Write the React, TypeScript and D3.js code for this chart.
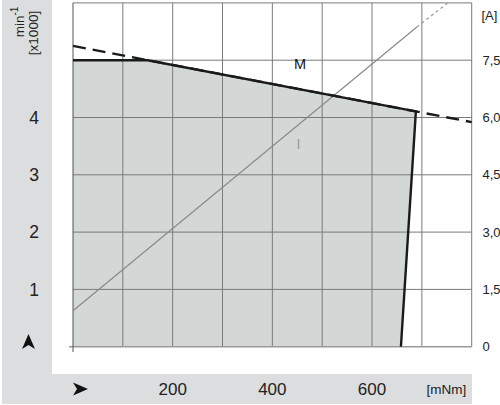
import * as d3 from "d3";

// torque [mNm] ticks and motor speed [x1000 min-1] / current [A] ticks
const torqueTicks = [200, 400, 600];
const speedTicks = [1, 2, 3, 4];
const currentTicks = [0, 1.5, 3.0, 4.5, 6.0, 7.5];
const currentLabels = ["0", "1,5", "3,0", "4,5", "6,0", "7,5"];

// speed/torque line (dashed full length)
const speedLineTorque = [0, 800];
const speedLineSpeed = [5.25, 3.92];

// permitted operating range (grey area, solid border)
const regionTorque = [0, 0, 150, 688, 658];
const regionSpeed = [0, 5.0, 5.0, 4.106, 0];

// current line: solid part then dotted extension
const currentTorque = [0, 690, 752];
const currentValue = [0.94, 8.37, 9.0];

const W = 500;
const H = 405;
const left = 73;
const right = 471.7;
const top = 2.9;
const bottom = 346.7;

export default function App() {
  const x = d3.scaleLinear().domain([0, 800]).range([left, right]);
  const yS = d3.scaleLinear().domain([0, 6]).range([bottom, top]);
  const yI = d3.scaleLinear().domain([0, 9]).range([bottom, top]);

  const line = d3.line<[number, number]>();

  const region = regionTorque.map((t, i) => [x(t), yS(regionSpeed[i])] as [number, number]);
  const regionPath = line(region) + "Z";
  const borderPath = line(region.slice(1)) || "";

  const dashPath =
    line(speedLineTorque.map((t, i) => [x(t), yS(speedLineSpeed[i])] as [number, number])) || "";

  const curPts = currentTorque.map((t, i) => [x(t), yI(currentValue[i])] as [number, number]);
  const curSolid = line(curPts.slice(0, 2)) || "";
  const curDotted = line(curPts.slice(1)) || "";

  const vGrid = d3.range(100, 800, 100);
  const hGrid = d3.range(1, 6, 1);

  const font = "'Liberation Sans', Arial, sans-serif";

  return (
    <svg width={W} height={H} style={{ position: "absolute", left: 0, top: 0 }} fontFamily={font}>
      <rect width={W} height={H} fill="#fff" />
      {/* grey label bands */}
      <rect x={2} y={0} width={50} height={404} fill="#dcdddf" />
      <rect x={2} y={374} width={470} height={30} fill="#dcdddf" />

      {/* operating range */}
      <path d={regionPath} fill="#d3d7d6" />

      {/* grid */}
      {vGrid.map((t) => (
        <line key={"v" + t} x1={x(t)} x2={x(t)} y1={top} y2={bottom} stroke="#7a7a7a" strokeWidth={1} />
      ))}
      {hGrid.map((s) => (
        <line key={"h" + s} x1={left} x2={right} y1={yS(s)} y2={yS(s)} stroke="#7a7a7a" strokeWidth={1} />
      ))}
      <line x1={left} x2={right} y1={top} y2={top} stroke="#7a7a7a" strokeWidth={1} />
      <line x1={right} x2={right} y1={top} y2={bottom} stroke="#7a7a7a" strokeWidth={1} />
      <line x1={69} x2={right} y1={bottom} y2={bottom} stroke="#999" strokeWidth={1.5} />
      <line x1={left} x2={left} y1={top} y2={352} stroke="#555" strokeWidth={1} />

      {/* current line */}
      <path d={curSolid} fill="none" stroke="#8a8a8a" strokeWidth={1.2} />
      <path d={curDotted} fill="none" stroke="#9a9a9a" strokeWidth={1.2} strokeDasharray="3 3" />

      {/* speed/torque line */}
      <path d={dashPath} fill="none" stroke="#1a1a1a" strokeWidth={2.4} strokeDasharray="13 7" />
      <path d={borderPath} fill="none" stroke="#1a1a1a" strokeWidth={2.4} strokeLinejoin="miter" />

      <text x={300} y={69} fontSize={14.5} textAnchor="middle" fill="#111">M</text>
      <text x={298.5} y={149} fontSize={14} textAnchor="middle" fill="#999">I</text>

      {/* left axis */}
      {speedTicks.map((s) => (
        <text key={"s" + s} x={34} y={yS(s)} dy="0.36em" fontSize={17.5} textAnchor="middle" fill="#222">
          {s}
        </text>
      ))}
      <text transform="translate(24,22) rotate(-90)" fontSize={13.5} textAnchor="middle" fill="#222">
        min<tspan dy={-6} fontSize={10}>-1</tspan>
      </text>
      <text transform="translate(38,33) rotate(-90)" fontSize={13.5} textAnchor="middle" fill="#222">
        [x1000]
      </text>
      <path d="M28.5,334 L35,349 L28.5,345 L22,349 Z" fill="#111" />

      {/* right axis */}
      {currentTicks.map((c, i) => (
        <text key={"c" + c} x={482.5} y={yI(c)} dy="0.36em" fontSize={13} fill="#222">
          {currentLabels[i]}
        </text>
      ))}
      <text x={481.5} y={20} fontSize={13} fill="#222">[A]</text>

      {/* bottom axis */}
      {torqueTicks.map((t) => (
        <text key={"t" + t} x={x(t)} y={388.5} dy="0.36em" fontSize={17} textAnchor="middle" fill="#222">
          {t}
        </text>
      ))}
      <text x={426.5} y={389.5} dy="0.36em" fontSize={13.5} fill="#222">[mNm]</text>
      <path d="M73,382.5 L88,389 L73,395.5 L77,389 Z" fill="#111" />
    </svg>
  );
}
